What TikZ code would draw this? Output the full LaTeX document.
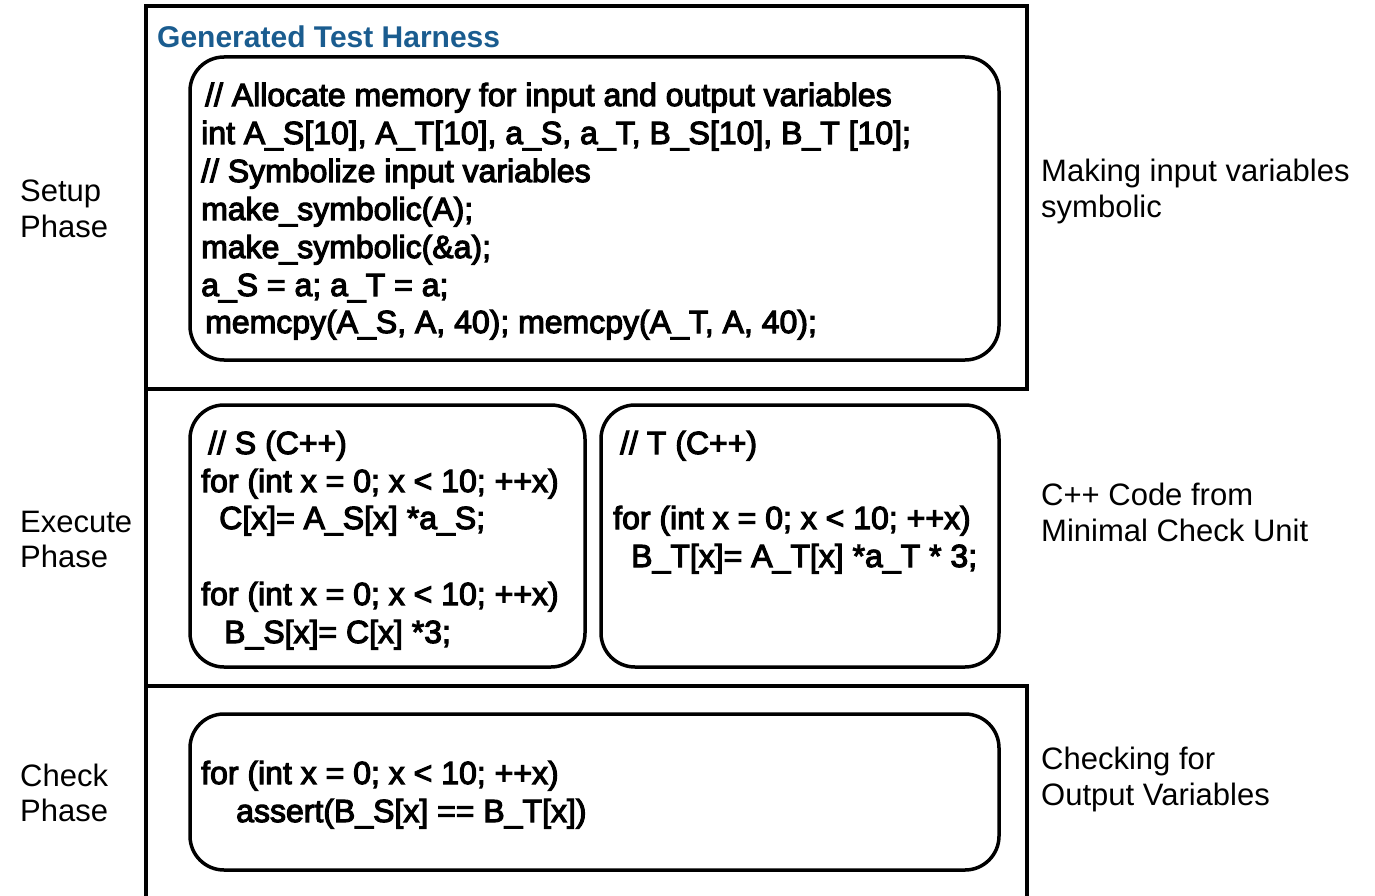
\documentclass[tikz,border=0pt]{standalone}
\usepackage{fontspec}
\setmainfont{Liberation Sans}
\newfontfamily\codefont[FakeBold=3.5]{Liberation Sans}
\definecolor{titleblue}{RGB}{26,92,143}
\tikzset{
  frame/.style={line width=3.5pt, black},
  codebox/.style={line width=3.5pt, black, rounded corners=34pt},
  codeline/.style={anchor=base west, inner sep=0pt, font=\codefont\fontsize{32}{39}\selectfont},
  sidelabel/.style={anchor=base west, inner sep=0pt, font=\fontsize{31}{36}\selectfont},
  titlelabel/.style={anchor=base west, inner sep=0pt, text=titleblue, font=\bfseries\fontsize{30}{35}\selectfont}
}
\begin{document}
\begin{tikzpicture}[x=1pt,y=-1pt]
\useasboundingbox (0,0) rectangle (1375,896);
% frames
\draw[frame] (146,6) rectangle (1027,389);
\draw[frame] (146,6) -- (146,896);
\draw[frame] (146,686) -- (1027,686) -- (1027,896);
% rounded code boxes
\draw[codebox] (190,57) rectangle (999,360);
\draw[codebox] (190,405) rectangle (585,667);
\draw[codebox] (601,405) rectangle (999,667);
\draw[codebox] (190,714) rectangle (999,870);
% title
\node[titlelabel] (title) at (157,48) {Generated Test Harness};
% setup code
\node[codeline] (s1) at (205,106) {// Allocate memory for input and output variables};
\node[codeline] (s2) at (201,144) {int A\_S[10], A\_T[10], a\_S, a\_T, B\_S[10], B\_T [10];};
\node[codeline] (s3) at (201,182) {// Symbolize input variables};
\node[codeline] (s4) at (201,220) {make\_symbolic(A);};
\node[codeline] (s5) at (201,258) {make\_symbolic(\&a);};
\node[codeline] (s6) at (201,296) {a\_S = a; a\_T = a;};
\node[codeline] (s7) at (205,333) {memcpy(A\_S, A, 40); memcpy(A\_T, A, 40);};
% S code
\node[codeline] (e1) at (208,454) {// S (C++)};
\node[codeline] (e2) at (201,492) {for (int x = 0; x < 10; ++x)};
\node[codeline] (e3) at (219,529) {C[x]= A\_S[x] *a\_S;};
\node[codeline] (e4) at (201,605) {for (int x = 0; x < 10; ++x)};
\node[codeline] (e5) at (224,643) {B\_S[x]= C[x] *3;};
% T code
\node[codeline] (t1) at (620,454) {// T (C++)};
\node[codeline] (t2) at (613,529) {for (int x = 0; x < 10; ++x)};
\node[codeline] (t3) at (631,567) {B\_T[x]= A\_T[x] *a\_T * 3;};
% check code
\node[codeline] (c1) at (201,784) {for (int x = 0; x < 10; ++x)};
\node[codeline] (c2) at (236,822) {assert(B\_S[x] == B\_T[x])};
% left labels
\node[sidelabel] (l1a) at (20,201) {Setup};
\node[sidelabel] (l1b) at (20,237) {Phase};
\node[sidelabel] (l2a) at (20,532) {Execute};
\node[sidelabel] (l2b) at (20,567) {Phase};
\node[sidelabel] (l3a) at (20,786) {Check};
\node[sidelabel] (l3b) at (20,821) {Phase};
% right labels
\node[sidelabel] (r1a) at (1041,182) {Making input variables};
\node[sidelabel] (r1b) at (1041,217) {symbolic};
\node[sidelabel] (r2a) at (1041,505) {C++ Code from};
\node[sidelabel] (r2b) at (1041,541) {Minimal Check Unit};
\node[sidelabel] (r3a) at (1041,769) {Checking for};
\node[sidelabel] (r3b) at (1041,805) {Output Variables};
\end{tikzpicture}
\end{document}
